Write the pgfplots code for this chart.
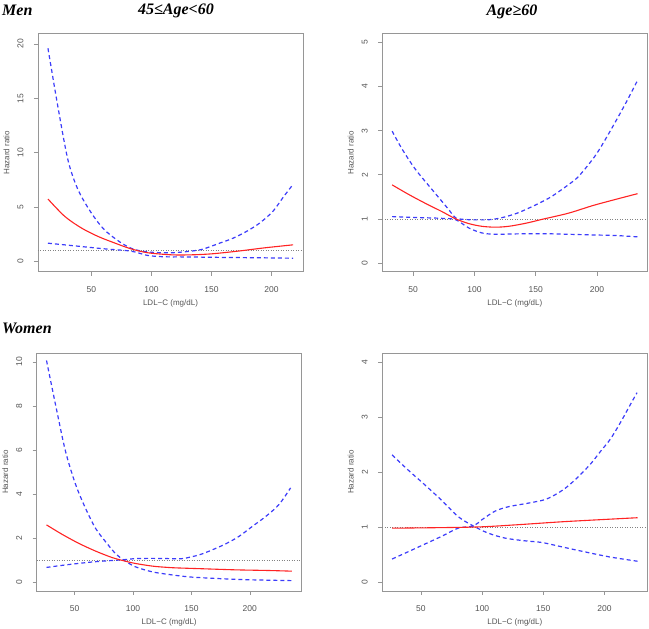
\documentclass[border=0pt]{standalone}
\usepackage{fontspec}
\setmainfont{Liberation Sans}
\newfontfamily\titleserif{Liberation Serif}
\usepackage{pgfplots}
\pgfplotsset{compat=1.18}
\definecolor{rred}{RGB}{255,35,35}
\definecolor{bblue}{RGB}{60,60,250}
\definecolor{boxgray}{RGB}{150,150,150}
\definecolor{lblgray}{RGB}{85,85,85}
\definecolor{refgray}{RGB}{130,130,130}
\pgfplotsset{rplot/.style={
  scale only axis, width=265pt, height=238pt, anchor=south west,
  axis line style={boxgray, line width=0.8pt},
  tick style={boxgray, line width=0.6pt},
  tick align=outside, major tick length=4pt,
  xtick={50,100,150,200},
  xtick pos=bottom, ytick pos=left,
  ticklabel style={font=\fontsize{8.5}{9}\selectfont, text=lblgray},
  /pgf/number format/assume math mode=true,
  xticklabel style={anchor=center}, xticklabel shift=14pt,
  yticklabel style={rotate=90, anchor=center}, yticklabel shift=13.5pt,
  xlabel={LDL−C (mg/dL)}, ylabel={Hazard ratio},
  label style={font=\fontsize{8}{9}\selectfont, text=lblgray},
  xlabel style={at={([yshift=-31.5pt]axis description cs:0.5,0)}, anchor=center},
  ylabel style={at={([xshift=-31.5pt]axis description cs:0,0.5)}, anchor=center},
  est/.style={rred, line width=1.1pt, smooth},
  ci/.style={bblue, line width=1.2pt, smooth, dash pattern=on 4pt off 3pt},
  refl/.style={refgray, line width=0.6pt, dash pattern=on 1pt off 1.5pt},
}}
\begin{document}
\begin{tikzpicture}
% ---------- Men, 45<=Age<60
\begin{axis}[rplot, at={(38pt,357.3pt)}, xmin=5.6, xmax=226.2, ymin=-0.94, ymax=20.94, ytick={0,5,10,15,20}]
\addplot[refl] coordinates {(5.6,1) (226.2,1)};
\addplot[ci] coordinates {(13.9,19.6) (22.2,14.2) (30.6,9.3) (38.9,6.6) (50,4.46) (61,2.9) (75,1.7) (86,1.1) (100,0.85) (117,0.8) (133,0.95) (143,1.14) (157,1.69) (168,2.14) (179,2.75) (190,3.52) (201,4.59) (209.7,5.9) (218,7.1)};
\addplot[ci] coordinates {(13.9,1.68) (33,1.47) (61,1.16) (83,0.95) (97,0.55) (111,0.43) (125,0.42) (140,0.4) (161,0.37) (189,0.34) (218,0.3)};
\addplot[est] coordinates {(13.9,5.74) (27.8,4.15) (41.7,3.08) (55.6,2.3) (69.4,1.7) (83,1.16) (97,0.8) (117,0.61) (133,0.61) (150,0.7) (172,0.95) (194,1.25) (218,1.53)};
\end{axis}
% ---------- Men, Age>=60
\begin{axis}[rplot, at={(382.3pt,357.3pt)}, xmin=24.8, xmax=241, ymin=-0.2, ymax=5.2, ytick={0,1,2,3,4,5}]
\addplot[refl] coordinates {(24.8,1) (241,1)};
\addplot[ci] coordinates {(32.8,2.99) (41,2.58) (51.9,2.12) (65.5,1.66) (79,1.21) (84.6,1.02) (95.5,0.98) (112,0.98) (123,1.03) (135,1.13) (148,1.29) (161.4,1.48) (172,1.68) (183,1.91) (191,2.16) (199.5,2.47) (207.6,2.84) (215.8,3.24) (223.9,3.65) (233.4,4.16)};
\addplot[ci] coordinates {(32.8,1.05) (52,1.03) (73.7,1.01) (84.6,0.98) (95.5,0.79) (106,0.68) (117,0.65) (139,0.66) (161,0.66) (188,0.64) (215.5,0.62) (233,0.59)};
\addplot[est] coordinates {(32.8,1.77) (46.5,1.55) (60,1.35) (73.7,1.16) (84.6,1.0) (95.5,0.89) (106,0.83) (117,0.81) (128,0.83) (142,0.9) (155.5,0.99) (177,1.13) (199,1.32) (233,1.57)};
\end{axis}
% ---------- Women, 45<=Age<60
\begin{axis}[rplot, at={(36.7pt,38pt)}, xmin=17.6, xmax=244.4, ymin=-0.4, ymax=10.4, ytick={0,2,4,6,8,10}]
\addplot[refl] coordinates {(17.6,1) (244.4,1)};
\addplot[ci] coordinates {(26,10.06) (33.7,8.06) (42.3,5.93) (51,4.42) (59.4,3.35) (68,2.44) (76.5,1.84) (85,1.3) (92.2,1.0) (102,0.7) (116.4,0.47) (130.7,0.35) (148,0.24) (170.6,0.17) (199,0.11) (236,0.07)};
\addplot[ci] coordinates {(26,0.67) (45,0.8) (68,0.93) (92,1.02) (102,1.07) (116,1.08) (130,1.07) (142.4,1.07) (156.7,1.24) (168,1.47) (179.4,1.74) (190.8,2.08) (202.1,2.53) (213.6,2.98) (224.9,3.52) (234.9,4.28)};
\addplot[est] coordinates {(26,2.6) (39.4,2.17) (53.7,1.76) (68,1.41) (82,1.12) (92.2,0.97) (102,0.85) (116.4,0.73) (127,0.68) (136.4,0.65) (159,0.61) (187.7,0.56) (216,0.53) (236,0.5)};
\end{axis}
% ---------- Women, Age>=60
\begin{axis}[rplot, at={(382.3pt,38pt)}, xmin=18.4, xmax=235, ymin=-0.16, ymax=4.16, ytick={0,1,2,3,4}]
\addplot[refl] coordinates {(18.4,1) (235,1)};
\addplot[ci] coordinates {(26.4,0.42) (39.3,0.55) (53,0.69) (66.7,0.83) (80.4,0.98) (92.8,1.02) (99.6,1.13) (110.6,1.29) (121.6,1.37) (139,1.44) (152.8,1.51) (166.4,1.68) (177.5,1.89) (188.4,2.14) (196.6,2.37) (204.9,2.6) (213.1,2.9) (221.3,3.23) (226.6,3.44)};
\addplot[ci] coordinates {(26.4,2.31) (39.3,2.04) (53,1.77) (66.7,1.49) (80.4,1.19) (92.8,1.02) (105,0.89) (118.8,0.8) (135.3,0.75) (149,0.72) (165.4,0.64) (181.9,0.56) (203.8,0.46) (227,0.38)};
\addplot[est] coordinates {(26.4,0.98) (92.8,1.0) (127,1.04) (168,1.1) (227,1.17)};
\end{axis}
% ---------- titles
\node[font=\titleserif\bfseries\itshape\fontsize{16}{18}\selectfont, inner sep=0, anchor=west] at (2pt,619pt) {Men};
\node[font=\titleserif\bfseries\itshape\fontsize{16}{18}\selectfont, inner sep=0] at (176pt,618.5pt) {45≤Age<60};
\node[font=\titleserif\bfseries\itshape\fontsize{16}{18}\selectfont, inner sep=0] at (512pt,617pt) {Age≥60};
\node[font=\titleserif\bfseries\itshape\fontsize{16}{18}\selectfont, inner sep=0, anchor=west] at (2pt,300.7pt) {Women};
\pgfresetboundingbox
\path[use as bounding box] (0,0) rectangle (649pt,629pt);
\end{tikzpicture}
\end{document}
